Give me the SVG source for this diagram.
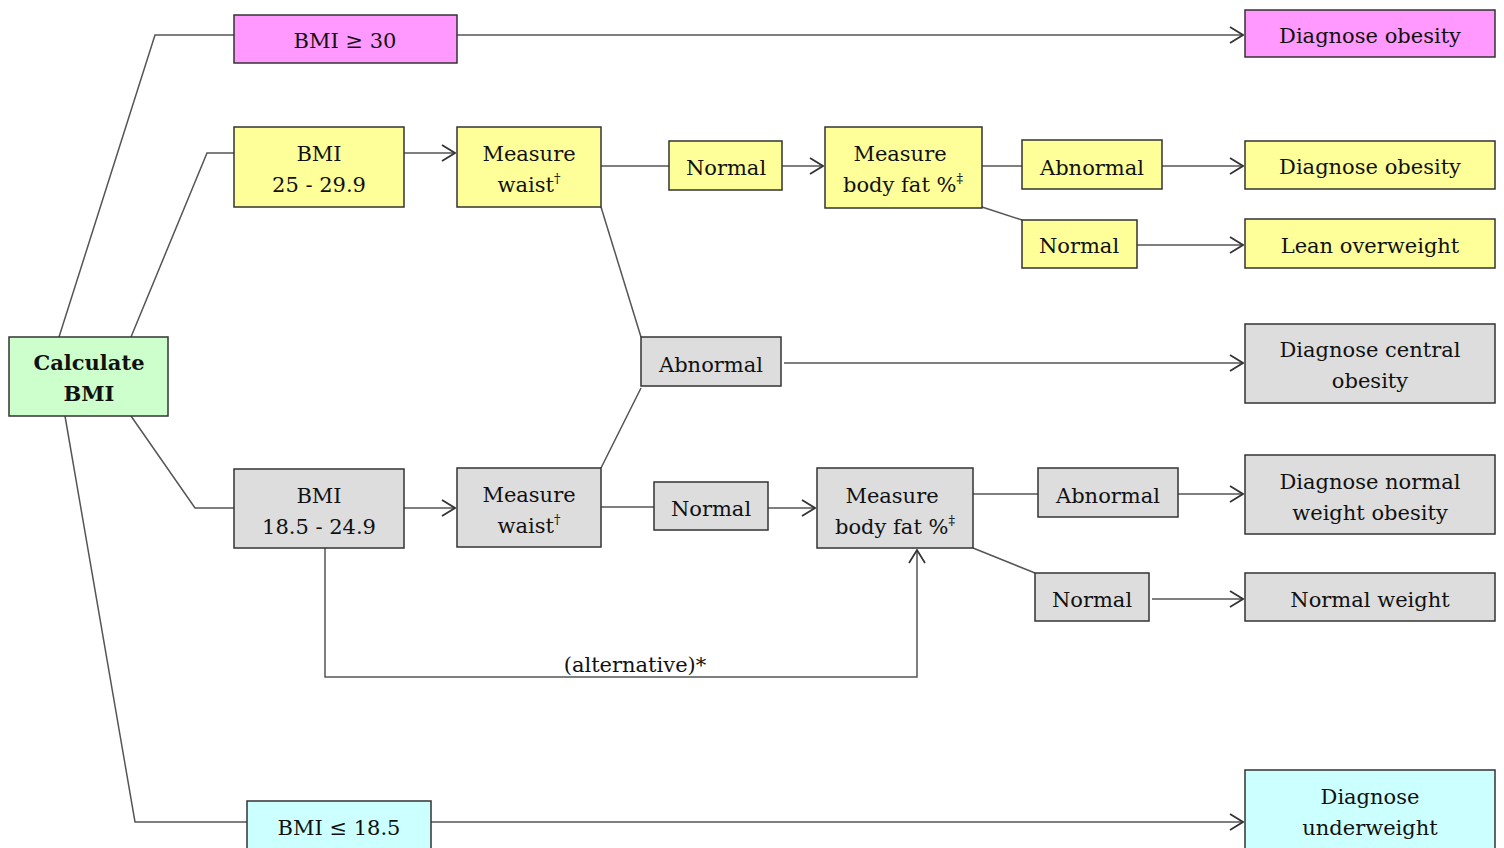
<svg xmlns="http://www.w3.org/2000/svg" width="1504" height="848" viewBox="0 0 1504 848">
<style>
.b{stroke:#333;stroke-width:1.5}
.m{fill:#ff99ff}.y{fill:#ffff99}.g{fill:#dddddd}.gr{fill:#ccffcc}.c{fill:#ccffff}
text{font-family:'DejaVu Serif','Liberation Serif',serif;font-size:21px;fill:#111;text-anchor:middle}
.bold{font-weight:bold}
.sup{font-size:13px}
#connectors path{fill:none;stroke:#555;stroke-width:1.5}
#connectors .a{marker-end:url(#arr)}
</style>
<defs>
<marker id="arr" viewBox="0 0 15 18" refX="14" refY="9" markerWidth="15" markerHeight="18" markerUnits="userSpaceOnUse" orient="auto">
<path d="M1,1 L14,9 L1,17" fill="none" stroke="#333" stroke-width="1.7"/>
</marker>
</defs>
<rect width="1504" height="848" fill="#fff"/>
<g id="connectors">
<path d="M59,337 L155,35 L234,35"/>
<path d="M131,337 L207,153 L234,153"/>
<path d="M131,416 L195,508 L234,508"/>
<path d="M65,416 L135,822 L247,822"/>
<path class="a" d="M457,35 L1243,35"/>
<path class="a" d="M404,153 L455,153"/>
<path d="M601,166 L669,166"/>
<path class="a" d="M782,166 L823,166"/>
<path d="M982,166 L1022,166"/>
<path class="a" d="M1162,166 L1243,166"/>
<path d="M982,207 L1022,220"/>
<path class="a" d="M1137,245 L1243,245"/>
<path d="M601,207 L641,337"/>
<path d="M641,388 L601,468"/>
<path class="a" d="M784,363 L1243,363"/>
<path class="a" d="M404,508 L455,508"/>
<path d="M601,507 L654,507"/>
<path class="a" d="M768,508 L815,508"/>
<path d="M973,494 L1038,494"/>
<path class="a" d="M1178,494 L1243,494"/>
<path d="M973,548 L1035,573"/>
<path class="a" d="M1152,599 L1243,599"/>
<path class="a" d="M325,548 L325,677 L917,677 L917,550"/>
<path class="a" d="M431,822 L1243,822"/>
<text x="635" y="672">(alternative)*</text>
</g>
<g id="calc"><rect class="b gr" x="9" y="337" width="159" height="79"/><text class="bold" x="89" y="370">Calculate</text><text class="bold" x="89" y="401">BMI</text></g>
<g id="bmi30"><rect class="b m" x="234" y="15" width="223" height="48"/><text x="345" y="48">BMI ≥ 30</text></g>
<g id="dxob1"><rect class="b m" x="1245" y="10" width="250" height="47"/><text x="1370" y="43">Diagnose obesity</text></g>
<g id="bmi25"><rect class="b y" x="234" y="127" width="170" height="80"/><text x="319" y="161">BMI</text><text x="319" y="192">25 - 29.9</text></g>
<g id="waist1"><rect class="b y" x="457" y="127" width="144" height="80"/><text x="529" y="161">Measure</text><text x="529" y="192">waist<tspan class="sup" dy="-9">†</tspan></text></g>
<g id="normal1"><rect class="b y" x="669" y="141" width="113" height="49"/><text x="726" y="175">Normal</text></g>
<g id="fat1"><rect class="b y" x="825" y="127" width="157" height="81"/><text x="900" y="161">Measure</text><text x="903" y="192">body fat %<tspan class="sup" dy="-9">‡</tspan></text></g>
<g id="abn1"><rect class="b y" x="1022" y="140" width="140" height="49"/><text x="1092" y="175">Abnormal</text></g>
<g id="normal2"><rect class="b y" x="1022" y="220" width="115" height="48"/><text x="1079" y="253">Normal</text></g>
<g id="dxob2"><rect class="b y" x="1245" y="141" width="250" height="48"/><text x="1370" y="174">Diagnose obesity</text></g>
<g id="lean"><rect class="b y" x="1245" y="219" width="250" height="49"/><text x="1370" y="253">Lean overweight</text></g>
<g id="abnmid"><rect class="b g" x="641" y="337" width="140" height="49"/><text x="711" y="372">Abnormal</text></g>
<g id="central"><rect class="b g" x="1245" y="324" width="250" height="79"/><text x="1370" y="357">Diagnose central</text><text x="1370" y="388">obesity</text></g>
<g id="bmi18"><rect class="b g" x="234" y="469" width="170" height="79"/><text x="319" y="503">BMI</text><text x="319" y="534">18.5 - 24.9</text></g>
<g id="waist2"><rect class="b g" x="457" y="468" width="144" height="79"/><text x="529" y="502">Measure</text><text x="529" y="533">waist<tspan class="sup" dy="-9">†</tspan></text></g>
<g id="normal3"><rect class="b g" x="654" y="482" width="114" height="48"/><text x="711" y="516">Normal</text></g>
<g id="fat2"><rect class="b g" x="817" y="468" width="156" height="80"/><text x="892" y="503">Measure</text><text x="895" y="534">body fat %<tspan class="sup" dy="-9">‡</tspan></text></g>
<g id="abn2"><rect class="b g" x="1038" y="468" width="140" height="49"/><text x="1108" y="503">Abnormal</text></g>
<g id="nwo"><rect class="b g" x="1245" y="455" width="250" height="79"/><text x="1370" y="489">Diagnose normal</text><text x="1370" y="520">weight obesity</text></g>
<g id="normal4"><rect class="b g" x="1035" y="573" width="114" height="48"/><text x="1092" y="607">Normal</text></g>
<g id="nw"><rect class="b g" x="1245" y="573" width="250" height="48"/><text x="1370" y="607">Normal weight</text></g>
<g id="bmiunder"><rect class="b c" x="247" y="801" width="184" height="60"/><text x="339" y="835">BMI ≤ 18.5</text></g>
<g id="under"><rect class="b c" x="1245" y="770" width="250" height="90"/><text x="1370" y="804">Diagnose</text><text x="1370" y="835">underweight</text></g>
</svg>
